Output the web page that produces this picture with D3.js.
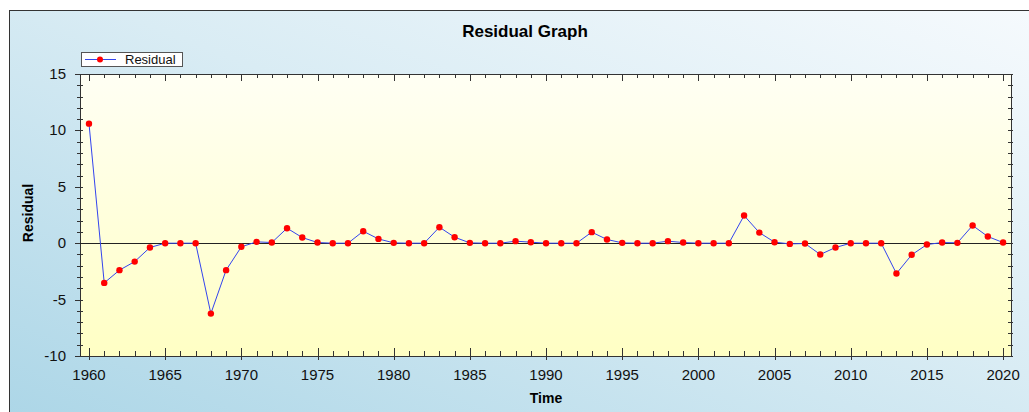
<!DOCTYPE html>
<html><head><meta charset="utf-8">
<script src="https://cdn.jsdelivr.net/npm/d3@7"></script>
<style>body{margin:0;background:#fff;}svg{display:block;font-family:"Liberation Sans",Arial,sans-serif;}</style>
</head><body>
<svg id="c" width="1029" height="412"></svg>
<script>
const years = d3.range(1960, 2021);
const residuals = [
 10.6, -3.52, -2.39, -1.63, -0.38, 0, 0, 0, -6.24, -2.39,
 -0.32, 0.12, 0.06, 1.33, 0.5, 0.06, 0, 0, 1.06, 0.38,
 0.03, 0, 0, 1.42, 0.53, 0.03, 0, 0, 0.18, 0.09,
 0, 0, 0, 0.98, 0.33, 0.03, 0, 0, 0.18, 0.06,
 0, 0, 0, 2.45, 0.94, 0.09, -0.06, -0.03, -1.0, -0.38,
 0, 0, 0, -2.69, -1.03, -0.12, 0.06, 0.03, 1.57, 0.59,
 0.06
];
const xTicks = [1960,1965,1970,1975,1980,1985,1990,1995,2000,2005,2010,2015,2020];
const yTicks = [15,10,5,0,-5,-10];
const title = "Residual Graph", xLabel = "Time", yLabel = "Residual", seriesName = "Residual";

const svg = d3.select("#c");
const defs = svg.append("defs");
const bg = defs.append("linearGradient").attr("id","bg").attr("x1","100%").attr("y1","0%").attr("x2","0%").attr("y2","100%");
bg.append("stop").attr("offset","0%").attr("stop-color","#f6fafd");
bg.append("stop").attr("offset","45%").attr("stop-color","#d9ecf4");
bg.append("stop").attr("offset","100%").attr("stop-color","#acd6e7");
const pg = defs.append("linearGradient").attr("id","pg").attr("x1","0").attr("y1","0").attr("x2","0").attr("y2","1");
pg.append("stop").attr("offset","0%").attr("stop-color","#fffff4");
pg.append("stop").attr("offset","100%").attr("stop-color","#ffffc4");

// outer panel
svg.append("rect").attr("x",9.5).attr("y",10.5).attr("width",1030).attr("height",410)
  .attr("fill","url(#bg)").attr("stroke","#333").attr("stroke-width",1);

const L=80, T=74, R=1011, B=356;
const x = d3.scaleLinear().domain([1959.41, 2020.52]).range([L, R]);
const y = d3.scaleLinear().domain([-10, 15]).range([B, T]);

svg.append("rect").attr("x",L).attr("y",T).attr("width",R-L).attr("height",B-T).attr("fill","url(#pg)");

// title
svg.append("text").attr("x",525).attr("y",37).attr("text-anchor","middle")
  .attr("font-size",17).attr("font-weight","bold").attr("fill","#000").text(title);

// axes frame
const ax = svg.append("g").attr("stroke","#333").attr("fill","none").attr("stroke-width",1);
ax.append("line").attr("x1",L).attr("x2",R).attr("y1",B+0.5).attr("y2",B+0.5);
ax.append("line").attr("x1",L).attr("x2",R).attr("y1",T+0.5).attr("y2",T+0.5);
ax.append("line").attr("x1",L+0.5).attr("x2",L+0.5).attr("y1",T).attr("y2",B+1);
ax.append("line").attr("x1",R+0.5).attr("x2",R+0.5).attr("y1",T).attr("y2",B+1);

// x ticks (bottom & top), minor every year
d3.range(1960, 2021).forEach(v => {
  const px = Math.round(x(v))+0.5;
  const major = v % 5 === 0;
  ax.append("line").attr("x1",px).attr("x2",px).attr("y1",major?B-8:B-5).attr("y2",major?B+4:B);
  ax.append("line").attr("x1",px).attr("x2",px).attr("y1",T).attr("y2",major?T+7:T+4);
});
// y ticks (left & right), minor every unit
d3.range(-10, 16).forEach(v => {
  const py = Math.round(y(v))+0.5;
  const major = v % 5 === 0;
  ax.append("line").attr("x1",major?L-5:L-3).attr("x2",L+3).attr("y1",py).attr("y2",py);
  ax.append("line").attr("x1",R-3).attr("x2",R+2).attr("y1",py).attr("y2",py);
});

// tick labels
svg.append("g").selectAll("text").data(xTicks).join("text")
  .attr("x",d=>x(d)).attr("y",380).attr("text-anchor","middle").attr("font-size",15).attr("fill","#111").text(d=>d);
svg.append("g").selectAll("text").data(yTicks).join("text")
  .attr("x",66).attr("y",d=>y(d)+5).attr("text-anchor","end").attr("font-size",15).attr("fill","#111").text(d=>d);

// axis labels
svg.append("text").attr("x",546).attr("y",403).attr("text-anchor","middle").attr("font-size",14).attr("font-weight","bold").text(xLabel);
svg.append("text").attr("transform","translate(33,213) rotate(-90)").attr("text-anchor","middle").attr("font-size",14).attr("font-weight","bold").text(yLabel);

// zero line
svg.append("line").attr("x1",L).attr("x2",R).attr("y1",Math.round(y(0))+0.5).attr("y2",Math.round(y(0))+0.5).attr("stroke","#222").attr("stroke-width",1);

// series
const data = years.map((yr,i)=>({yr, v: residuals[i]}));
svg.append("path").datum(data).attr("fill","none").attr("stroke","#3344ee").attr("stroke-width",1)
  .attr("d", d3.line().x(d=>x(d.yr)).y(d=>y(d.v)));
svg.append("g").selectAll("circle").data(data).join("circle")
  .attr("cx",d=>x(d.yr)).attr("cy",d=>y(d.v)).attr("r",3.2).attr("fill","#ff0000");

// legend
const lg = svg.append("g");
lg.append("rect").attr("x",81.5).attr("y",52.5).attr("width",101).attr("height",14).attr("fill","#fff").attr("stroke","#555");
lg.append("line").attr("x1",85).attr("x2",116).attr("y1",59.5).attr("y2",59.5).attr("stroke","#3344ee");
lg.append("circle").attr("cx",100).attr("cy",59.5).attr("r",3).attr("fill","#ff0000");
lg.append("text").attr("x",125).attr("y",64).attr("font-size",13).attr("fill","#111").text(seriesName);
</script>
</body></html>
